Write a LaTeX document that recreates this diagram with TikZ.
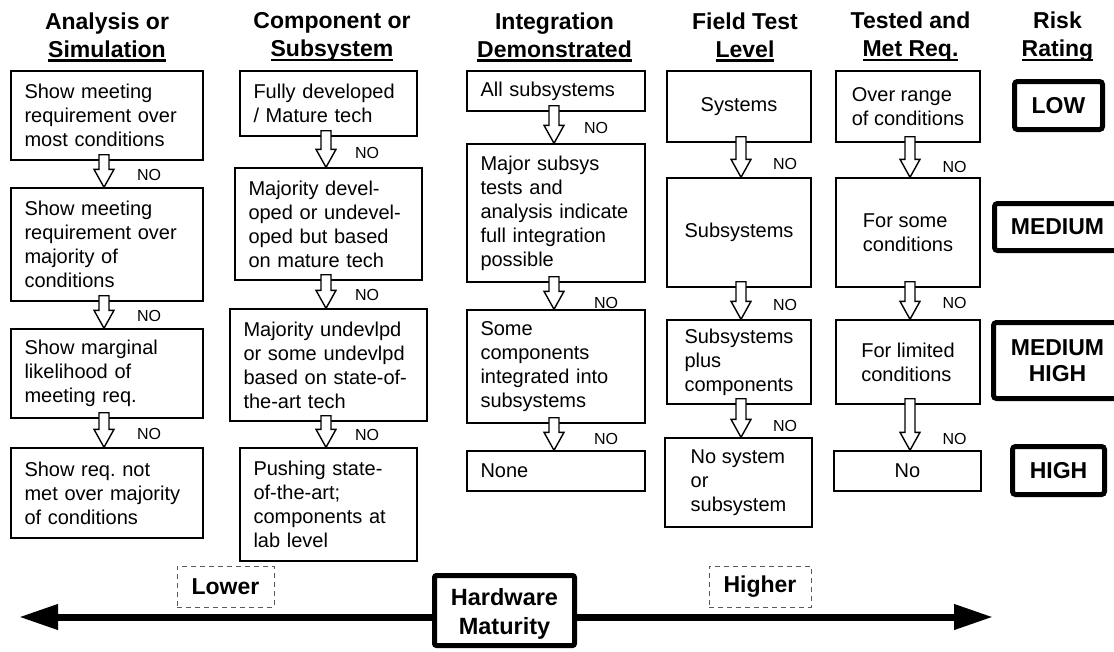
\documentclass[tikz,border=0pt]{standalone}
\usepackage{fontspec}
\setmainfont{Liberation Sans}
\usetikzlibrary{arrows.meta,calc}
\frenchspacing
\newcommand\hul[1]{\setbox0\hbox{#1}\rlap{\rule[-4.5pt]{\wd0}{2.3pt}}\box0}
\newcommand\blkarrow[3]{%
  \path[blk] let \p1=([xshift=#3pt]#1.south), \p2=([xshift=#3pt]#1.south |- #2.north) in
    (\x1-5pt,\y1+6pt) -- (\x1-5pt,\y2+18pt) -- (\x1-10pt,\y2+18pt) -- (\x1,\y2)
    -- (\x1+10pt,\y2+18pt) -- (\x1+5pt,\y2+18pt) -- (\x1+5pt,\y1+6pt) -- cycle;}
\begin{document}
\begin{tikzpicture}[x=1pt,y=-1pt,
  lbx/.style={draw, line width=1.4pt, align=left, inner xsep=13.5pt, inner ysep=2pt, font=\fontsize{20}{24}\selectfont},
  cbx/.style={draw, line width=1.4pt, align=left, inner sep=2pt, font=\fontsize{20}{24}\selectfont},
  hdr/.style={align=center, inner sep=0pt, font=\fontsize{23}{28}\selectfont\bfseries},
  nolab/.style={inner sep=0pt, font=\fontsize{16}{19}\selectfont},
  rbx/.style={draw, line width=5pt, rounded corners=3pt, align=center, inner sep=0pt, font=\fontsize{23}{26}\selectfont\bfseries},
  dbx/.style={draw=black!65, line width=1pt, dash pattern=on 5pt off 4pt, inner sep=0pt, font=\fontsize{23}{28}\selectfont\bfseries},
  hmbx/.style={draw, fill=white, line width=5pt, rounded corners=2pt, align=center, inner sep=0pt, font=\fontsize{23.5}{29.5}\selectfont\bfseries},
  bigarrow/.style={line width=7pt, -{Triangle[length=39pt,width=24pt]}},
  blk/.style={draw, fill=white, line width=1.4pt, line join=miter},
]
\useasboundingbox (0,0) rectangle (1114,651);
\fill[white] (0,0) rectangle (1114,651);

% headers
\node[hdr] (h1) at (107,37) {Analysis or\\\hul{Simulation}};
\node[hdr] (h2) at (332,37) {Component or\\\hul{Subsystem}};
\node[hdr] (h3) at (554.5,37) {Integration\\\hul{Demonstrated}};
\node[hdr] (h4) at (745,37) {Field Test\\\hul{Level}};
\node[hdr] (h5) at (910.5,37) {Tested and\\\hul{Met Req.}};
\node[hdr] (h6) at (1057.5,37) {Risk\\\hul{Rating}};

% column A
\node[lbx, text width=165pt, minimum height=89pt] (a1) at (107,115.5) {Show meeting\\requirement over\\most conditions};
\node[lbx, text width=165pt, minimum height=113pt] (a2) at (107,244.5) {Show meeting\\requirement over\\majority of\\conditions};
\node[lbx, text width=165pt, minimum height=89pt] (a3) at (107,373.5) {Show marginal\\likelihood of\\meeting req.};
\node[lbx, text width=165pt, minimum height=90pt] (a4) at (107,493) {Show req. not\\met over majority\\of conditions};

% column B
\node[lbx, text width=150pt, minimum height=65pt] (b1) at (328.5,103.5) {Fully developed\\/ Mature tech};
\node[lbx, text width=160pt, minimum height=112pt] (b2) at (328.5,224) {Majority devel-\\oped or undevel-\\oped but based\\on mature tech};
\node[lbx, text width=170pt, minimum height=112pt] (b3) at (328.5,365) {Majority undevlpd\\or some undevlpd\\based on state-of-\\the-art tech};
\node[lbx, text width=150pt, minimum height=113pt] (b4) at (328.5,504.5) {Pushing state-\\of-the-art;\\components at\\lab level};

% column C
\node[lbx, text width=151pt, minimum height=40pt] (c1) at (556,91) {All subsystems};
\node[lbx, text width=151pt, minimum height=138pt] (c2) at (556,213) {Major subsys\\tests and\\analysis indicate\\full integration\\possible};
\node[lbx, text width=151pt, minimum height=113pt] (c3) at (556,366.5) {Some\\components\\integrated into\\subsystems};
\node[lbx, text width=151pt, minimum height=40pt] (c4) at (556,471) {None};

% column D
\node[cbx, minimum width=144pt, minimum height=71pt] (d1) at (739,106.5) {Systems};
\node[cbx, minimum width=144pt, minimum height=109pt] (d2) at (739,232.5) {Subsystems};
\node[cbx, minimum width=144pt, minimum height=84pt] (d3) at (739,362) {Subsystems\\plus\\components};
\node[cbx, minimum width=147pt, minimum height=89pt] (d4) at (738.5,482.5) {No system\\or\\subsystem};

% column E
\node[cbx, minimum width=144pt, minimum height=71pt] (e1) at (908,106.5) {Over range\\of conditions};
\node[cbx, minimum width=144pt, minimum height=109pt] (e2) at (908,232.5) {For some\\conditions};
\node[cbx, minimum width=144pt, minimum height=84pt] (e3) at (908,362) {For limited\\conditions};
\node[cbx, minimum width=147pt, minimum height=40pt] (e4) at (907.5,471) {No};

% risk ratings
\node[rbx, minimum width=88pt, minimum height=48pt] (low) at (1058.5,105.5) {LOW};
\node[rbx, minimum width=126pt, minimum height=47pt] (med) at (1057.5,227) {MEDIUM};
\node[rbx, minimum width=128pt, minimum height=76pt] (medhigh) at (1057.5,360.5) {MEDIUM\\HIGH};
\node[rbx, minimum width=92pt, minimum height=48pt] (high) at (1058.5,470.5) {HIGH};

% block arrows
\blkarrow{a1}{a2}{-3}
\blkarrow{a2}{a3}{-3}
\blkarrow{a3}{a4}{-3}
\blkarrow{b1}{b2}{-2.5}
\blkarrow{b2}{b3}{-2.5}
\blkarrow{b3}{b4}{-2.5}
\blkarrow{c1}{c2}{-2}
\blkarrow{c2}{c3}{-2}
\blkarrow{c3}{c4}{-2}
\blkarrow{d1}{d2}{2}
\blkarrow{d2}{d3}{2}
\blkarrow{d3}{d4}{2}
\blkarrow{e1}{e2}{2}
\blkarrow{e2}{e3}{2}
\blkarrow{e3}{e4}{2}

% NO labels
\node[nolab] (na1) at (149,175) {NO};
\node[nolab] (na2) at (149,316) {NO};
\node[nolab] (na3) at (149,434) {NO};
\node[nolab] (nb1) at (367,153) {NO};
\node[nolab] (nb2) at (367,295) {NO};
\node[nolab] (nb3) at (367,435) {NO};
\node[nolab] (nc1) at (596,128) {NO};
\node[nolab] (nc2) at (606,303) {NO};
\node[nolab] (nc3) at (606,439) {NO};
\node[nolab] (nd1) at (785,164) {NO};
\node[nolab] (nd2) at (785,305) {NO};
\node[nolab] (nd3) at (785,426) {NO};
\node[nolab] (ne1) at (954.5,167) {NO};
\node[nolab] (ne2) at (954.5,303) {NO};
\node[nolab] (ne3) at (954.5,439) {NO};

% maturity axis
\node[dbx, minimum width=97pt, minimum height=41pt] (lower) at (225.5,586.5) {Lower};
\node[dbx, minimum width=102pt, minimum height=41pt] (higher) at (760,586.5) {Higher};
\node[hmbx, minimum width=140pt, minimum height=70pt] (hm) at (504.5,610.5) {\rule{0pt}{24pt}Hardware\\Maturity};
\coordinate (lt) at (19,617);
\coordinate (rt) at (993,617);
\draw[bigarrow] (hm.west |- lt) -- (lt);
\draw[bigarrow] (hm.east |- rt) -- (rt);
\end{tikzpicture}
\end{document}
